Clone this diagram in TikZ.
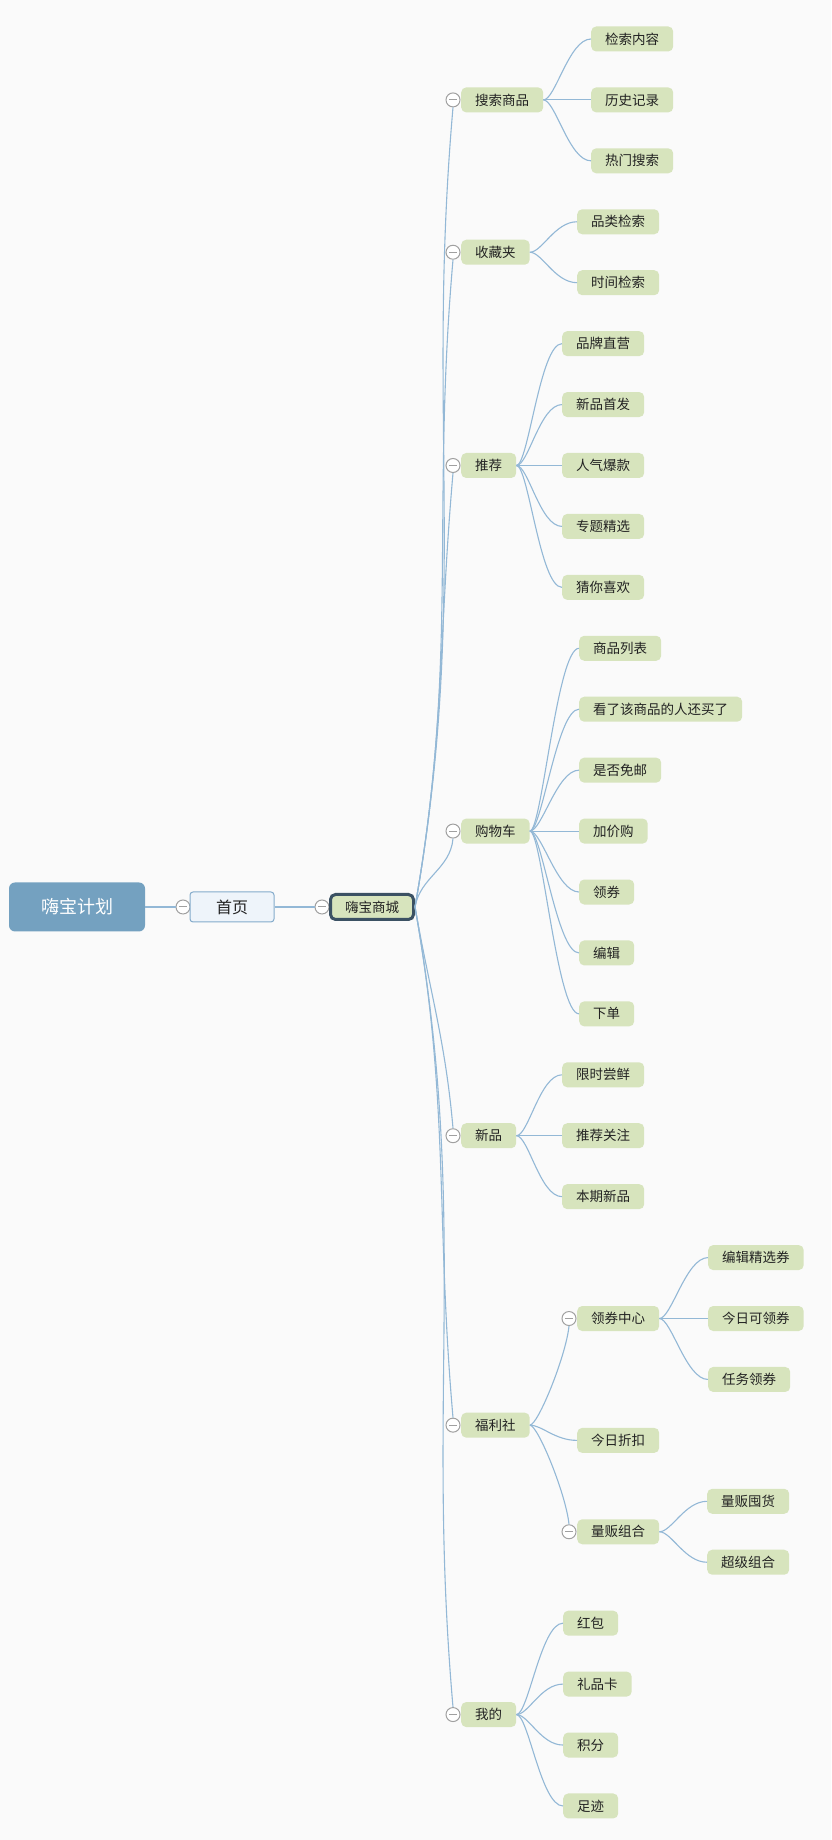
\documentclass[tikz,border=0pt]{standalone}
\usepackage{fontspec}
\usepackage{xcolor}
\usepackage{tikz}
\newfontfamily\cjk{Noto Sans CJK SC}

\definecolor{bggray}{HTML}{FAFAFA}
\definecolor{leafgreen}{HTML}{D7E4BD}
\definecolor{planblue}{HTML}{74A1C0}
\definecolor{homefill}{HTML}{EEF4FA}
\definecolor{homeline}{HTML}{84ABCB}
\definecolor{mallline}{HTML}{3B5163}
\definecolor{linkblue}{HTML}{93B8D6}
\definecolor{foldgray}{HTML}{A0A0A0}
\definecolor{textgray}{HTML}{222222}

\begin{document}
\begin{tikzpicture}[x=1pt, y=1pt,
    declare function={row(\k)=1801-60.93*\k;},
    every node/.style={font=\cjk\fontsize{13.5}{16}\selectfont, text=textgray},
    leaf/.style={fill=leafgreen, rounded corners=5pt, minimum height=25pt, inner xsep=14pt, inner ysep=0pt, anchor=west},
    topic/.style={leaf},
    fold/.style={circle, draw=foldgray, fill=white, line width=1pt, minimum size=14pt, inner sep=0pt,
        path picture={\draw[foldgray, line width=1pt] ([xshift=-4pt]path picture bounding box.center) -- ([xshift=4pt]path picture bounding box.center);}},
    link/.style={draw=linkblue, line width=1.1pt},
    twig/.style={to path={.. controls +(12,0) and +(-22,0) .. (\tikztotarget)}},
    twigup/.style={to path={.. controls +(8,0) and +(-3,-30) .. (\tikztotarget)}},
    twigdown/.style={to path={.. controls +(8,0) and +(-3,30) .. (\tikztotarget)}}]

    \useasboundingbox (0,0) rectangle (831,1840);
    \fill[bggray] (0,0) rectangle (831,1840);

    % Nodes
    \node[fill=planblue, rounded corners=6pt, minimum width=136pt, minimum height=49pt, text=white, font=\cjk\fontsize{18}{20}\selectfont] (plan) at (77, 933) {嗨宝计划};
    \node[fold] (f-home) at (183, 933) {};
    \node[fill=homefill, draw=homeline, line width=1pt, rounded corners=3pt, minimum width=84pt, minimum height=30pt, font=\cjk\fontsize{16}{18}\selectfont] (home) at (232, 933) {首页};
    \node[fold] (f-mall) at (322, 933) {};
    \node[fill=leafgreen, draw=mallline, line width=3pt, rounded corners=5pt, minimum width=83pt, minimum height=25pt, inner sep=0pt] (mall) at (372, 933) {嗨宝商城};

    \node[fold] (f-search) at (453, {row(1)}) {};
    \node[topic] (search) at (461, {row(1)}) {搜索商品};
    \node[fold] (f-fav) at (453, {row(3.5)}) {};
    \node[topic] (fav) at (461, {row(3.5)}) {收藏夹};
    \node[fold] (f-rec) at (453, {row(7)}) {};
    \node[topic] (rec) at (461, {row(7)}) {推荐};
    \node[fold] (f-cart) at (453, {row(13)}) {};
    \node[topic] (cart) at (461, {row(13)}) {购物车};
    \node[fold] (f-new) at (453, {row(18)}) {};
    \node[topic] (new) at (461, {row(18)}) {新品};
    \node[fold] (f-welfare) at (453, {row(22.75)}) {};
    \node[topic] (welfare) at (461, {row(22.75)}) {福利社};
    \node[fold] (f-mine) at (453, {row(27.5)}) {};
    \node[topic] (mine) at (461, {row(27.5)}) {我的};

    \node[leaf] (search1) at (591, {row(0)}) {检索内容};
    \node[leaf] (search2) at (591, {row(1)}) {历史记录};
    \node[leaf] (search3) at (591, {row(2)}) {热门搜索};

    \node[leaf] (fav1) at (577, {row(3)}) {品类检索};
    \node[leaf] (fav2) at (577, {row(4)}) {时间检索};

    \node[leaf] (rec1) at (562, {row(5)}) {品牌直营};
    \node[leaf] (rec2) at (562, {row(6)}) {新品首发};
    \node[leaf] (rec3) at (562, {row(7)}) {人气爆款};
    \node[leaf] (rec4) at (562, {row(8)}) {专题精选};
    \node[leaf] (rec5) at (562, {row(9)}) {猜你喜欢};

    \node[leaf] (cart1) at (579, {row(10)}) {商品列表};
    \node[leaf] (cart2) at (579, {row(11)}) {看了该商品的人还买了};
    \node[leaf] (cart3) at (579, {row(12)}) {是否免邮};
    \node[leaf] (cart4) at (579, {row(13)}) {加价购};
    \node[leaf] (cart5) at (579, {row(14)}) {领券};
    \node[leaf] (cart6) at (579, {row(15)}) {编辑};
    \node[leaf] (cart7) at (579, {row(16)}) {下单};

    \node[leaf] (new1) at (562, {row(17)}) {限时尝鲜};
    \node[leaf] (new2) at (562, {row(18)}) {推荐关注};
    \node[leaf] (new3) at (562, {row(19)}) {本期新品};

    \node[fold] (f-coupon) at (569, {row(21)}) {};
    \node[leaf] (coupon) at (577, {row(21)}) {领券中心};
    \node[leaf] (discount) at (577, {row(23)}) {今日折扣};
    \node[fold] (f-bulk) at (569, {row(24.5)}) {};
    \node[leaf] (bulk) at (577, {row(24.5)}) {量贩组合};

    \node[leaf] (coupon1) at (708, {row(20)}) {编辑精选券};
    \node[leaf] (coupon2) at (708, {row(21)}) {今日可领券};
    \node[leaf] (coupon3) at (708, {row(22)}) {任务领券};
    \node[leaf] (bulk1) at (707, {row(24)}) {量贩囤货};
    \node[leaf] (bulk2) at (707, {row(25)}) {超级组合};

    \node[leaf] (mine1) at (563, {row(26)}) {红包};
    \node[leaf] (mine2) at (563, {row(27)}) {礼品卡};
    \node[leaf] (mine3) at (563, {row(28)}) {积分};
    \node[leaf] (mine4) at (563, {row(29)}) {足迹};

    % Edges
    \draw[link] (plan.east) -- (f-home.west);
    \draw[link] (home.east) -- (f-mall.west);

    \draw[link] (mall.east) to[out=80, in=-95] (f-search.south);
    \draw[link] (mall.east) to[out=80, in=-95] (f-fav.south);
    \draw[link] (mall.east) to[out=80, in=-95] (f-rec.south);
    \draw[link] (mall.east) to[out=80, in=-95] (f-cart.south);
    \draw[link] (mall.east) to[out=-80, in=95] (f-new.north);
    \draw[link] (mall.east) to[out=-80, in=95] (f-welfare.north);
    \draw[link] (mall.east) to[out=-80, in=95] (f-mine.north);

    \draw[link] (search.east) to[twig] (search1.west);
    \draw[link] (search.east) to[twig] (search2.west);
    \draw[link] (search.east) to[twig] (search3.west);

    \draw[link] (fav.east) to[twig] (fav1.west);
    \draw[link] (fav.east) to[twig] (fav2.west);

    \draw[link] (rec.east) to[twig] (rec1.west);
    \draw[link] (rec.east) to[twig] (rec2.west);
    \draw[link] (rec.east) to[twig] (rec3.west);
    \draw[link] (rec.east) to[twig] (rec4.west);
    \draw[link] (rec.east) to[twig] (rec5.west);

    \draw[link] (cart.east) to[twig] (cart1.west);
    \draw[link] (cart.east) to[twig] (cart2.west);
    \draw[link] (cart.east) to[twig] (cart3.west);
    \draw[link] (cart.east) to[twig] (cart4.west);
    \draw[link] (cart.east) to[twig] (cart5.west);
    \draw[link] (cart.east) to[twig] (cart6.west);
    \draw[link] (cart.east) to[twig] (cart7.west);

    \draw[link] (new.east) to[twig] (new1.west);
    \draw[link] (new.east) to[twig] (new2.west);
    \draw[link] (new.east) to[twig] (new3.west);

    \draw[link] (welfare.east) to[twigup] (f-coupon.south);
    \draw[link] (welfare.east) to[twig] (discount.west);
    \draw[link] (welfare.east) to[twigdown] (f-bulk.north);

    \draw[link] (coupon.east) to[twig] (coupon1.west);
    \draw[link] (coupon.east) to[twig] (coupon2.west);
    \draw[link] (coupon.east) to[twig] (coupon3.west);
    \draw[link] (bulk.east) to[twig] (bulk1.west);
    \draw[link] (bulk.east) to[twig] (bulk2.west);

    \draw[link] (mine.east) to[twig] (mine1.west);
    \draw[link] (mine.east) to[twig] (mine2.west);
    \draw[link] (mine.east) to[twig] (mine3.west);
    \draw[link] (mine.east) to[twig] (mine4.west);
\end{tikzpicture}
\end{document}
